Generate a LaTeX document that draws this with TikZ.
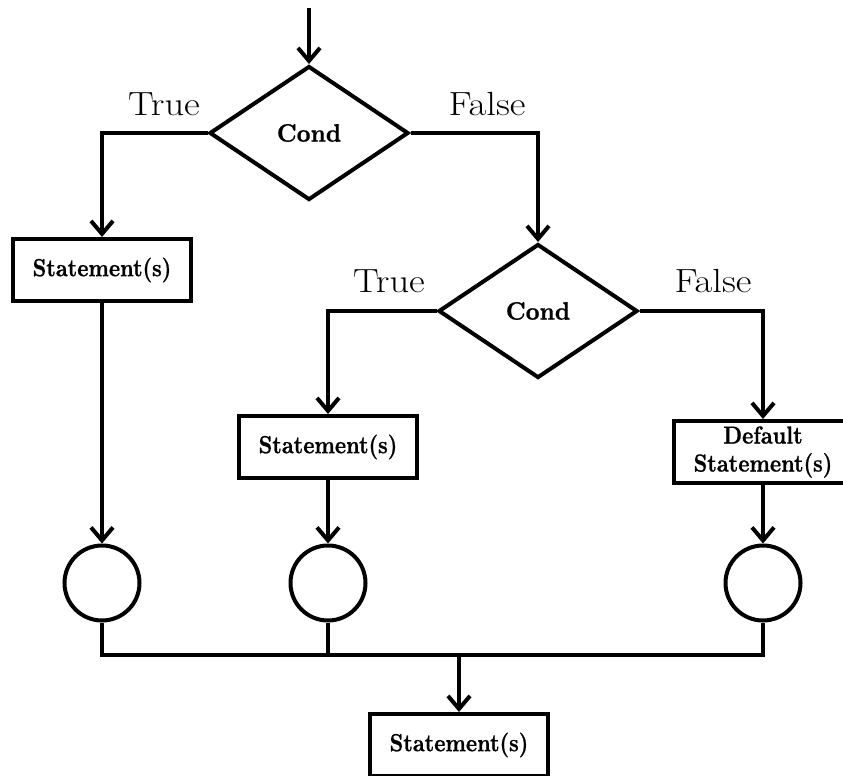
\documentclass[tikz,border=0pt]{standalone}
\usepackage{fontspec}
\usetikzlibrary{shapes.geometric,arrows.meta}
% heavier bold face for the block texts
\newfontfamily\stmtfont{lmroman10-bold}[Extension=.otf,FakeBold=0.8]
% block texts are set a little taller than the plain font
\newcommand\tallr[1]{\scalebox{1}[1.16]{#1}}
\newcommand\widel[1]{\scalebox{1.15}[1]{#1}}
\begin{document}
\begin{tikzpicture}[x=1pt,y=-1pt,
  line width=4pt,
  flow/.style={-{Straight Barb[length=13pt,width=22pt]}},
  stmt/.style={draw,rectangle,minimum width=178pt,minimum height=62pt,inner sep=0pt,
    align=center,font=\stmtfont\fontsize{21.3}{28}\selectfont},
  cond/.style={draw,diamond,minimum width=199pt,minimum height=134pt,inner sep=0pt,
    font=\stmtfont\fontsize{24}{28}\selectfont},
  mergept/.style={draw,circle,minimum size=75pt,inner sep=0pt},
  lbl/.style={anchor=base,font=\fontsize{33.5}{40}\selectfont}]
\useasboundingbox (0,0) rectangle (843,776);
\clip (0,0) rectangle (843,776);

% decisions
\node[cond] (d1) at (309,133) {\scalebox{1}[1.05]{Cond}};
\node[cond] (d2) at (538,311) {\scalebox{1}[1.05]{Cond}};

% statement blocks
\node[stmt] (b1) at (102,270) {\tallr{Statement(s)}};
\node[stmt] (b2) at (328,447) {\tallr{Statement(s)}};
\node[stmt] (b3) at (763,452) {\tallr{Default}\\\tallr{Statement(s)}};
\node[stmt] (b4) at (459,745) {\tallr{Statement(s)}};

% junctions
\node[mergept] (c1) at (102,583) {};
\node[mergept] (c2) at (328,583) {};
\node[mergept] (c3) at (763,583) {};

% branch labels
\node[lbl] (t1) at (164,115) {\widel{True}};
\node[lbl] (f1) at (487,115) {\widel{False}};
\node[lbl] (t2) at (389,292) {\widel{True}};
\node[lbl] (f2) at (713,292) {\widel{False}};

% entry
\coordinate (in) at (309,8);
\draw[flow] (in) -- (d1.north);

% branches
\draw[flow] (d1.west) -| (b1.north);
\draw[flow] (d1.east) -| (d2.north);
\draw[flow] (d2.west) -| (b2.north);
\draw[flow] (d2.east) -| (b3.north);

% into the junctions
\draw[flow] (b1.south) -- (c1.north);
\draw[flow] (b2.south) -- (c2.north);
\draw[flow] (b3.south) -- (c3.north);

% merge
\coordinate (bus) at (459,655);
\draw (c1.south) |- (bus) -| (c3.south);
\draw (c2.south) -- (c2.south |- bus);
\draw[flow] (bus) -- (b4.north);
\end{tikzpicture}
\end{document}
